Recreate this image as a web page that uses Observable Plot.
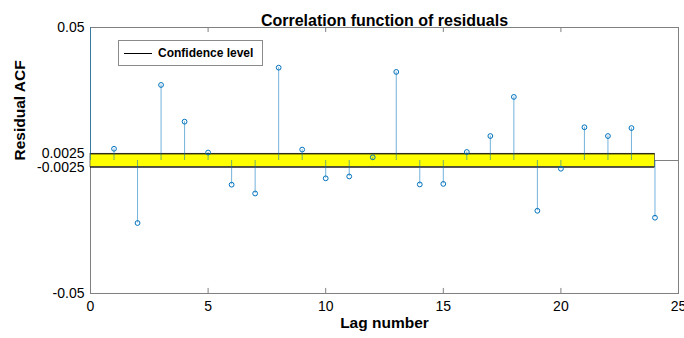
<!DOCTYPE html>
<html>
<head>
<meta charset="utf-8">
<script src="https://cdn.jsdelivr.net/npm/d3@7"></script>
<script src="https://cdn.jsdelivr.net/npm/@observablehq/plot@0.6"></script>
<style>
  html, body { margin: 0; padding: 0; background: #fff; }
  #wrap { position: relative; width: 684px; height: 338px; font-family: "Liberation Sans", Arial, sans-serif; }
  #legend { position: absolute; left: 118px; top: 40px; width: 143px; height: 24px; border: 1px solid #8a8a8a; background: #fff; }
  #legend .ln { position: absolute; left: 5px; top: 12px; width: 28px; height: 0; border-top: 1.3px solid #000; }
  #legend .tx { position: absolute; left: 39px; top: 4px; font-size: 12px; font-weight: bold; color: #000; line-height: 16px; }
</style>
</head>
<body>
<div id="wrap"></div>
<script>
const lags = [0,1,2,3,4,5,6,7,8,9,10,11,12,13,14,15,16,17,18,19,20,21,22,23,24];
const acf  = [1, 0.0044, -0.0235, 0.0284, 0.0146, 0.0030, -0.0091, -0.0124, 0.0349, 0.0041,
              -0.0067, -0.0060, 0.0012, 0.0333, -0.0090, -0.0088, 0.0032, 0.0092, 0.0239, -0.0189,
              -0.0031, 0.0125, 0.0092, 0.0122, -0.0215];
const confLevel = 0.0025;
const confLagMax = 24;
const xTicks = [0, 5, 10, 15, 20, 25];
const xInnerTicks = [5, 10, 15, 20];
const yTicks = [0.05, 0.0025, -0.0025, -0.05];
const yTickLabels = ["0.05", "0.0025", "-0.0025", "-0.05"];
const titleText = "Correlation function of residuals";
const xLabelText = "Lag number";
const yLabelText = "Residual ACF";
const legendText = "Confidence level";

const data = lags.map((l, i) => ({lag: l, acf: acf[i]}));
const yLabelMap = new Map(yTicks.map((t, i) => [t, yTickLabels[i]]));

const stemColor = "#0072BD";
const frameColor = "#808080";

const chart = Plot.plot({
  width: 684,
  height: 338,
  marginLeft: 90,
  marginRight: 6,
  marginTop: 27,
  marginBottom: 45,
  style: {fontFamily: "'Liberation Sans', Arial, sans-serif", fontSize: "14px", color: "#000", background: "#fff"},
  x: {domain: [0, 25], label: null},
  y: {domain: [-0.05, 0.05], label: null},
  marks: [
    Plot.frame({stroke: frameColor, strokeWidth: 1}),
    Plot.ruleY([0], {x1: 0, x2: 25, stroke: frameColor, strokeWidth: 1}),
    Plot.rect([confLevel], {x1: 0, x2: confLagMax, y1: d => -d, y2: d => d, fill: "#ffff00", stroke: "#555", strokeWidth: 0.8}),
    Plot.ruleY([confLevel, -confLevel], {x1: 0, x2: confLagMax, stroke: "#000", strokeWidth: 1}),
    Plot.ruleX(data, {x: "lag", y1: 0, y2: "acf", stroke: stemColor, strokeOpacity: 0.55, strokeWidth: 1, clip: true}),
    Plot.dot(data, {x: "lag", y: "acf", r: 2.4, stroke: stemColor, strokeWidth: 1, fill: "none", clip: true}),
    Plot.ruleX(xInnerTicks, {x: d => d, y1: -0.05, y2: -0.05 + 0.0019, stroke: frameColor}),
    Plot.ruleX(xInnerTicks, {x: d => d, y1: 0.05, y2: 0.05 - 0.0019, stroke: frameColor}),
    Plot.axisX({ticks: xTicks, tickSize: 0, tickPadding: 8, fontSize: 14, tickFormat: d => String(d), label: null}),
    Plot.axisY({ticks: yTicks, tickSize: 0, tickPadding: 6, fontSize: 14, tickFormat: d => yLabelMap.get(d), label: null}),
    Plot.text([titleText], {frameAnchor: "top", dy: -13, text: d => d, fontSize: 16, fontWeight: "bold", fill: "#000"}),
    Plot.text([xLabelText], {frameAnchor: "bottom", dy: 34, text: d => d, fontSize: 15.5, fontWeight: "bold", fill: "#000"}),
    Plot.text([yLabelText], {frameAnchor: "left", dx: -70, rotate: -90, text: d => d, fontSize: 15.5, fontWeight: "bold", fill: "#000"})
  ]
});

const wrap = document.getElementById("wrap");
wrap.appendChild(chart);
const legend = document.createElement("div");
legend.id = "legend";
legend.innerHTML = '<div class="ln"></div><div class="tx"></div>';
legend.querySelector(".tx").textContent = legendText;
wrap.appendChild(legend);
</script>
</body>
</html>
